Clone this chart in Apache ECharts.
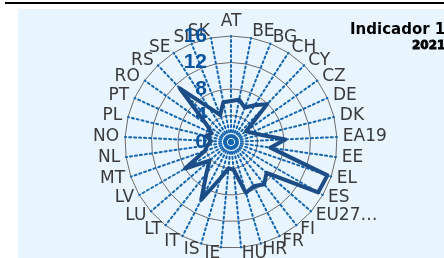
<!DOCTYPE html>
<html>
<head>
<meta charset="utf-8">
<script src="https://cdn.jsdelivr.net/npm/echarts@6/dist/echarts.min.js"></script>
<style>
html,body{margin:0;padding:0;background:#ffffff;width:444px;height:258px;overflow:hidden;position:relative;}
#topline{position:absolute;left:5px;top:2px;width:439px;height:2px;background:#000;}
#chart{position:absolute;left:18px;top:9px;width:600px;height:249px;background:#e8f5fe;}
</style>
</head>
<body>
<div id="topline"></div>
<div id="chart"></div>
<script>
// Categories in clockwise order starting at the top
const countries = ["AT","BE","BG","CH","CY","CZ","DE","DK","EA19","EE","EL","ES","EU27…","FI","FR","HR","HU","IE","IS","IT","LT","LU","LV","MT","NL","NO","PL","PT","RO","RS","SE","SI","SK"];
const values = [6.2,6.5,5.6,6.6,7.9,2.8,3.4,4.6,8.2,6.0,15.4,15.2,7.1,8.1,7.5,8.0,4.2,4.0,5.7,9.8,6.0,4.3,8.0,4.2,3.6,3.0,3.8,3.2,4.5,11.2,6.2,4.4,6.1];
const axisMin = 0;
const axisMax = 16;
const titleText = "Indicador 11";
const subTitleText = "2021";

// ECharts radar runs counter-clockwise; reverse (keeping first) to draw clockwise
const order = [0];
for (let i = countries.length - 1; i >= 1; i--) order.push(i);
const indicators = order.map((i, k) => ({
  name: countries[i], min: axisMin, max: axisMax,
  axisLabel: k === 0 ? {show: true} : {show: false}
}));
const seriesValues = order.map(i => values[i]);

const chart = echarts.init(document.getElementById('chart'), null, {renderer: 'canvas'});
chart.setOption({
  animation: false,
  title: [
    {text: titleText, left: 327, top: 9, textStyle: {fontFamily: 'DejaVu Sans', fontWeight: 'bold', fontSize: 15, color: '#000'}},
    {text: subTitleText, left: 389, top: 26, textStyle: {fontFamily: 'DejaVu Sans', fontWeight: 'bold', fontSize: 12, color: '#000', textBorderColor: '#000', textBorderWidth: 0.8}}
  ],
  radar: {
    center: [213, 133],
    radius: 106,
    startAngle: 90,
    shape: 'polygon',
    splitNumber: 4,
    nameGap: 6,
    axisName: {color: '#3a3a3a', fontFamily: 'DejaVu Sans', fontSize: 17},
    axisLine: {lineStyle: {color: '#1565b0', type: [2, 3], width: 2}},
    splitLine: {lineStyle: {color: '#6a6a6a', width: 1}},
    splitArea: {show: false},
    axisTick: {show: false},
    axisLabel: {show: false, showMinLabel: true, showMaxLabel: true, hideOverlap: false,
      color: '#0d549e', fontWeight: 'bold', fontSize: 21, fontFamily: "'Liberation Sans Narrow', 'Liberation Sans'", margin: 24},
    indicator: indicators
  },
  series: [{
    type: 'radar',
    symbol: 'none',
    lineStyle: {color: '#1d4d86', width: 4},
    data: [{value: seriesValues}]
  }]
});
</script>
</body>
</html>
